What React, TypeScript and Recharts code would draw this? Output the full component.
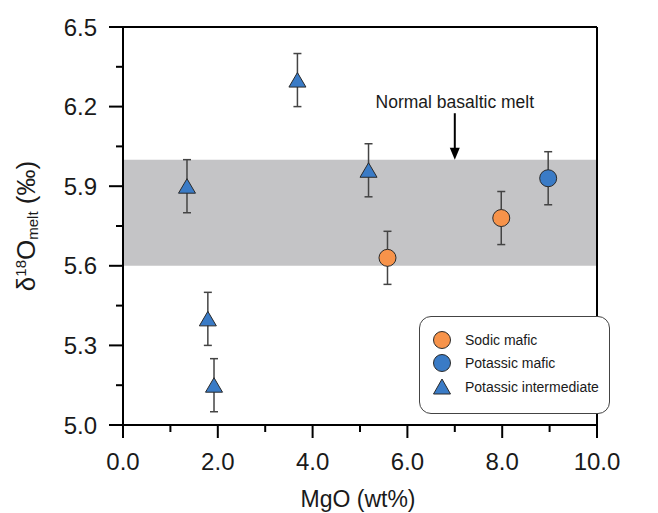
import {
  ScatterChart, Scatter, XAxis, YAxis, ErrorBar, ReferenceArea, ReferenceLine, Legend
} from 'recharts'

const FONT = 'Liberation Sans, Arial, sans-serif'

const sodicMaficX = [5.58, 7.98]
const sodicMaficY = [5.63, 5.78]
const sodicMaficErr = [0.1, 0.1]

const potassicMaficX = [8.97]
const potassicMaficY = [5.93]
const potassicMaficErr = [0.1]

const potassicIntX = [1.35, 3.68, 5.18, 1.79, 1.92]
const potassicIntY = [5.9, 6.3, 5.96, 5.4, 5.15]
const potassicIntErr = [0.1, 0.1, 0.1, 0.1, 0.1]

const xMajor = [0, 2, 4, 6, 8, 10]
const xMinor = [1, 3, 5, 7, 9]
const yMajor = [5.0, 5.3, 5.6, 5.9, 6.2, 6.5]
const yMinor = [5.15, 5.45, 5.75, 6.05, 6.35]

const bandLow = 5.6
const bandHigh = 6.0
const arrowX = 7
const arrowTop = 6.175
const annotation = 'Normal basaltic melt'

const legendNames = ['Sodic mafic', 'Potassic mafic', 'Potassic intermediate']

const ORANGE = '#f7934a'
const BLUE = '#3a7bc6'

const build = (xs: number[], ys: number[], es: number[]) =>
  xs.map((x, i) => ({ x, y: ys[i], err: es[i] }))

const sodicData = build(sodicMaficX, sodicMaficY, sodicMaficErr)
const potMaficData = build(potassicMaficX, potassicMaficY, potassicMaficErr)
const potIntData = build(potassicIntX, potassicIntY, potassicIntErr)

const isIn = (list: number[], v: number) => list.some((m) => Math.abs(m - v) < 1e-6)

function YTick(props: any) {
  const { x, y, payload } = props
  const major = isIn(yMajor, payload.value)
  return (
    <g>
      <line x1={x - (major ? 14 : 7)} x2={x} y1={y} y2={y} stroke='#000' strokeWidth={2} />
      {major && (
        <text x={x - 26} y={y} dy='0.36em' textAnchor='end' fontSize={24} fontFamily={FONT} fill='#1a1a1a'>
          {payload.value.toFixed(1)}
        </text>
      )}
    </g>
  )
}

function XTick(props: any) {
  const { x, y, payload } = props
  const major = isIn(xMajor, payload.value)
  return (
    <g>
      <line x1={x} x2={x} y1={y} y2={y + (major ? 13 : 7)} stroke='#000' strokeWidth={2} />
      {major && (
        <text x={x} y={y + 45} textAnchor='middle' fontSize={24} fontFamily={FONT} fill='#1a1a1a'>
          {payload.value.toFixed(1)}
        </text>
      )}
    </g>
  )
}

function Circle(color: string) {
  return (props: any) => (
    <circle cx={props.cx} cy={props.cy} r={8.5} fill={color} stroke='#2a2a2a' strokeWidth={1} />
  )
}

function Triangle(props: any) {
  const { cx, cy } = props
  return (
    <polygon
      points={`${cx},${cy - 7.5} ${cx - 8.5},${cy + 7} ${cx + 8.5},${cy + 7}`}
      fill={BLUE}
      stroke='#2a2a2a'
      strokeWidth={1}
    />
  )
}

function Arrow(props: any) {
  const { x1, y1, x2, y2 } = props
  return (
    <g>
      <text x={x1} y={y1 - 5} textAnchor='middle' fontSize={17.5} fontFamily={FONT} fill='#1a1a1a'>
        {annotation}
      </text>
      <line x1={x1} y1={y1} x2={x2} y2={y2 - 10} stroke='#000' strokeWidth={2} />
      <polygon points={`${x2 - 5},${y2 - 12} ${x2 + 5},${y2 - 12} ${x2},${y2}`} fill='#000' />
    </g>
  )
}

function LegendBox() {
  const shapes = [
    <circle cx={9} cy={9} r={8.5} fill={ORANGE} stroke='#2a2a2a' />,
    <circle cx={9} cy={9} r={8.5} fill={BLUE} stroke='#2a2a2a' />,
    <polygon points='9,1 0.5,16 17.5,16' fill={BLUE} stroke='#2a2a2a' />,
  ]
  return (
    <div
      style={{
        width: 189,
        height: 85,
        border: '1px solid #444',
        borderRadius: 12,
        background: '#fff',
        fontFamily: FONT,
        fontSize: 14,
        color: '#1a1a1a',
        paddingTop: 11,
        boxSizing: 'content-box',
      }}
    >
      {legendNames.map((name, i) => (
        <div key={name} style={{ display: 'flex', alignItems: 'center', height: 23.5 }}>
          <svg width={18} height={18} style={{ marginLeft: 13, marginRight: 14 }}>{shapes[i]}</svg>
          <span>{name}</span>
        </div>
      ))}
    </div>
  )
}

function YLabel() {
  return (
    <text
      x={35}
      y={226}
      transform='rotate(-90, 35, 226)'
      textAnchor='middle'
      fontSize={26}
      fontFamily={FONT}
      fill='#1a1a1a'
    >
      δ<tspan fontSize={15} dy={-9}>18</tspan>
      <tspan dy={9}>O</tspan>
      <tspan fontSize={15} dy={3}>melt</tspan>
      <tspan dy={-3}> (‰)</tspan>
    </text>
  )
}

function XLabel() {
  return (
    <text x={358} y={507} textAnchor='middle' fontSize={23} fontFamily={FONT} fill='#1a1a1a'>
      MgO (wt%)
    </text>
  )
}

export default function App() {
  return (
    <div style={{ position: 'absolute', left: 0, top: 0, background: '#fff' }}>
      <ScatterChart width={658} height={513} margin={{ top: 27, right: 61, left: 0, bottom: 28 }}>
        <ReferenceArea y1={bandLow} y2={bandHigh} x1={0} x2={10} fill='#c4c4c6' fillOpacity={1} stroke='none' />
        <XAxis
          type='number'
          dataKey='x'
          domain={[0, 10]}
          ticks={[...xMajor, ...xMinor].sort((a, b) => a - b)}
          interval={0}
          allowDataOverflow
          height={60}
          tickSize={0}
          tickMargin={0}
          tick={<XTick />}
          axisLine={{ stroke: '#000', strokeWidth: 2 }}
          label={<XLabel />}
        />
        <YAxis
          type='number'
          dataKey='y'
          domain={[5.0, 6.5]}
          ticks={[...yMajor, ...yMinor].sort((a, b) => a - b)}
          interval={0}
          allowDataOverflow
          width={123}
          tickSize={0}
          tickMargin={0}
          tick={<YTick />}
          axisLine={{ stroke: '#000', strokeWidth: 2 }}
          label={<YLabel />}
        />
        <ReferenceLine y={6.5} stroke='#000' strokeWidth={2} />
        <ReferenceLine x={10} stroke='#000' strokeWidth={2} />
        <ReferenceLine
          segment={[{ x: arrowX, y: arrowTop }, { x: arrowX, y: bandHigh }]}
          shape={<Arrow />}
        />
        <Scatter name='Sodic mafic' data={sodicData} shape={Circle(ORANGE)} isAnimationActive={false}>
          <ErrorBar dataKey='err' direction='y' width={4} stroke='#444' strokeWidth={1.5} />
        </Scatter>
        <Scatter name='Potassic mafic' data={potMaficData} shape={Circle(BLUE)} isAnimationActive={false}>
          <ErrorBar dataKey='err' direction='y' width={4} stroke='#444' strokeWidth={1.5} />
        </Scatter>
        <Scatter name='Potassic intermediate' data={potIntData} shape={<Triangle />} isAnimationActive={false}>
          <ErrorBar dataKey='err' direction='y' width={4} stroke='#444' strokeWidth={1.5} />
        </Scatter>
        <Legend
          layout='vertical'
          align='center'
          verticalAlign='middle'
          content={<LegendBox />}
          wrapperStyle={{ position: 'absolute', left: 419, top: 316, width: 191, height: 87 }}
        />
      </ScatterChart>
    </div>
  )
}
